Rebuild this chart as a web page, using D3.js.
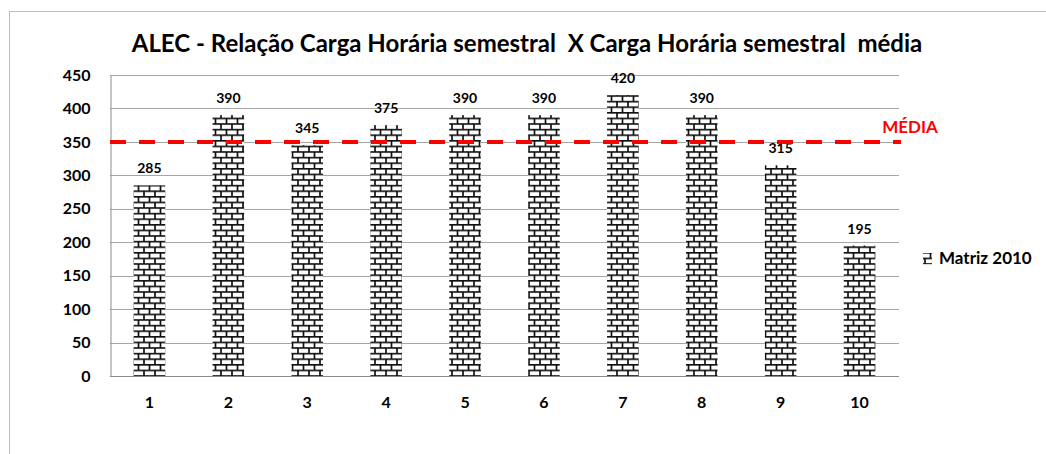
<!DOCTYPE html>
<html>
<head>
<meta charset="utf-8">
<script src="https://cdn.jsdelivr.net/npm/d3@7"></script>
<style>
  body { margin: 0; background: #fff; }
  text { font-family: "Lato", sans-serif; font-weight: bold; }
</style>
</head>
<body>
<script>
// data
const semesters = ["1", "2", "3", "4", "5", "6", "7", "8", "9", "10"];
const cargaHoraria = [285, 390, 345, 375, 390, 390, 420, 390, 315, 195];
const media = [350];
const yTicks = [0, 50, 100, 150, 200, 250, 300, 350, 400, 450];
const seriesName = "Matriz 2010";
const titleText = "ALEC - Relação Carga Horária semestral  X Carga Horária semestral  média";

const width = 1046;
const height = 454;
const margin = { top: 75, right: 147, bottom: 78, left: 110 };

let svg = d3.select("body")
    .append("svg")
    .attr("width", width)
    .attr("height", height);

// brick pattern
let defs = svg.append("defs");
let pat = defs.append("pattern")
    .attr("id", "brick")
    .attr("patternUnits", "userSpaceOnUse")
    .attr("width", 11)
    .attr("height", 11.2);
pat.append("rect").attr("width", 11).attr("height", 11.2).attr("fill", "#fff");
pat.append("path")
    .attr("d", "M0,0.8H11 M0,6.4H11 M1,0.8V6.4 M6.5,6.4V11.2")
    .attr("stroke", "#111")
    .attr("stroke-width", 1.7)
    .attr("fill", "none");

// chart frame
svg.append("rect")
    .attr("x", 9.5)
    .attr("y", 11.5)
    .attr("width", 1100)
    .attr("height", 600)
    .attr("fill", "none")
    .attr("stroke", "#bdbdbd");

const x = d3.scaleBand()
    .domain(semesters)
    .range([margin.left, width - margin.right])
    .paddingInner(0.6)
    .paddingOuter(0.3);

const y = d3.scaleLinear()
    .domain([0, 450])
    .range([height - margin.bottom, margin.top]);

// grid lines
svg.append("g")
    .selectAll("line")
    .data(yTicks.slice(1))
    .enter()
    .append("line")
    .attr("x1", margin.left)
    .attr("x2", width - margin.right)
    .attr("y1", d => Math.round(y(d)) + 0.5)
    .attr("y2", d => Math.round(y(d)) + 0.5)
    .attr("stroke", "#a6a6a6")
    .attr("stroke-width", 1);

// y axis
let yAxis = svg.append("g")
    .attr("transform", "translate(" + (margin.left + 0.5) + ",0)")
    .call(d3.axisLeft(y).tickValues(yTicks).tickSize(0).tickPadding(20));
yAxis.select(".domain").attr("stroke", "#8c8c8c");
yAxis.selectAll("text")
    .style("font-size", "16px")
    .attr("fill", "#000");

// x axis
let xAxis = svg.append("g")
    .attr("transform", "translate(0," + (Math.round(y(0)) + 0.5) + ")")
    .call(d3.axisBottom(x).tickSize(0).tickPadding(20));
xAxis.select(".domain").attr("stroke", "#8c8c8c").attr("d", "M" + margin.left + ",0H" + (width - margin.right));
xAxis.selectAll("text")
    .style("font-size", "16px")
    .attr("fill", "#000");

// bars
svg.append("g")
    .selectAll("rect")
    .data(cargaHoraria)
    .enter()
    .append("rect")
    .attr("x", (d, i) => x(semesters[i]))
    .attr("y", d => y(d))
    .attr("width", x.bandwidth())
    .attr("height", d => y(0) - y(d))
    .attr("fill", "url(#brick)");

// value labels
svg.append("g")
    .selectAll("text")
    .data(cargaHoraria)
    .enter()
    .append("text")
    .attr("x", (d, i) => x(semesters[i]) + x.bandwidth() / 2)
    .attr("y", d => y(d) - 12)
    .attr("text-anchor", "middle")
    .style("font-size", "14px")
    .text(d => d);

// media line
svg.append("line")
    .attr("x1", margin.left)
    .attr("x2", width - margin.right + 2)
    .attr("y1", y(media[0]))
    .attr("y2", y(media[0]))
    .attr("stroke", "#ff0000")
    .attr("stroke-width", 4)
    .attr("stroke-dasharray", "16,13");

svg.append("text")
    .attr("x", 910)
    .attr("y", 133)
    .attr("text-anchor", "middle")
    .attr("fill", "#ff0000")
    .style("font-size", "17px")
    .text("MÉDIA");

// title
svg.append("text")
    .attr("x", 527)
    .attr("y", 52)
    .attr("text-anchor", "middle")
    .style("font-size", "24px")
    .style("white-space", "pre")
    .text(titleText);

// legend
svg.append("rect")
    .attr("x", 923)
    .attr("y", 253)
    .attr("width", 9)
    .attr("height", 11.2)
    .attr("fill", "url(#brick)");
svg.append("text")
    .attr("x", 939)
    .attr("y", 264)
    .style("font-size", "17px")
    .text(seriesName);
</script>
</body>
</html>
